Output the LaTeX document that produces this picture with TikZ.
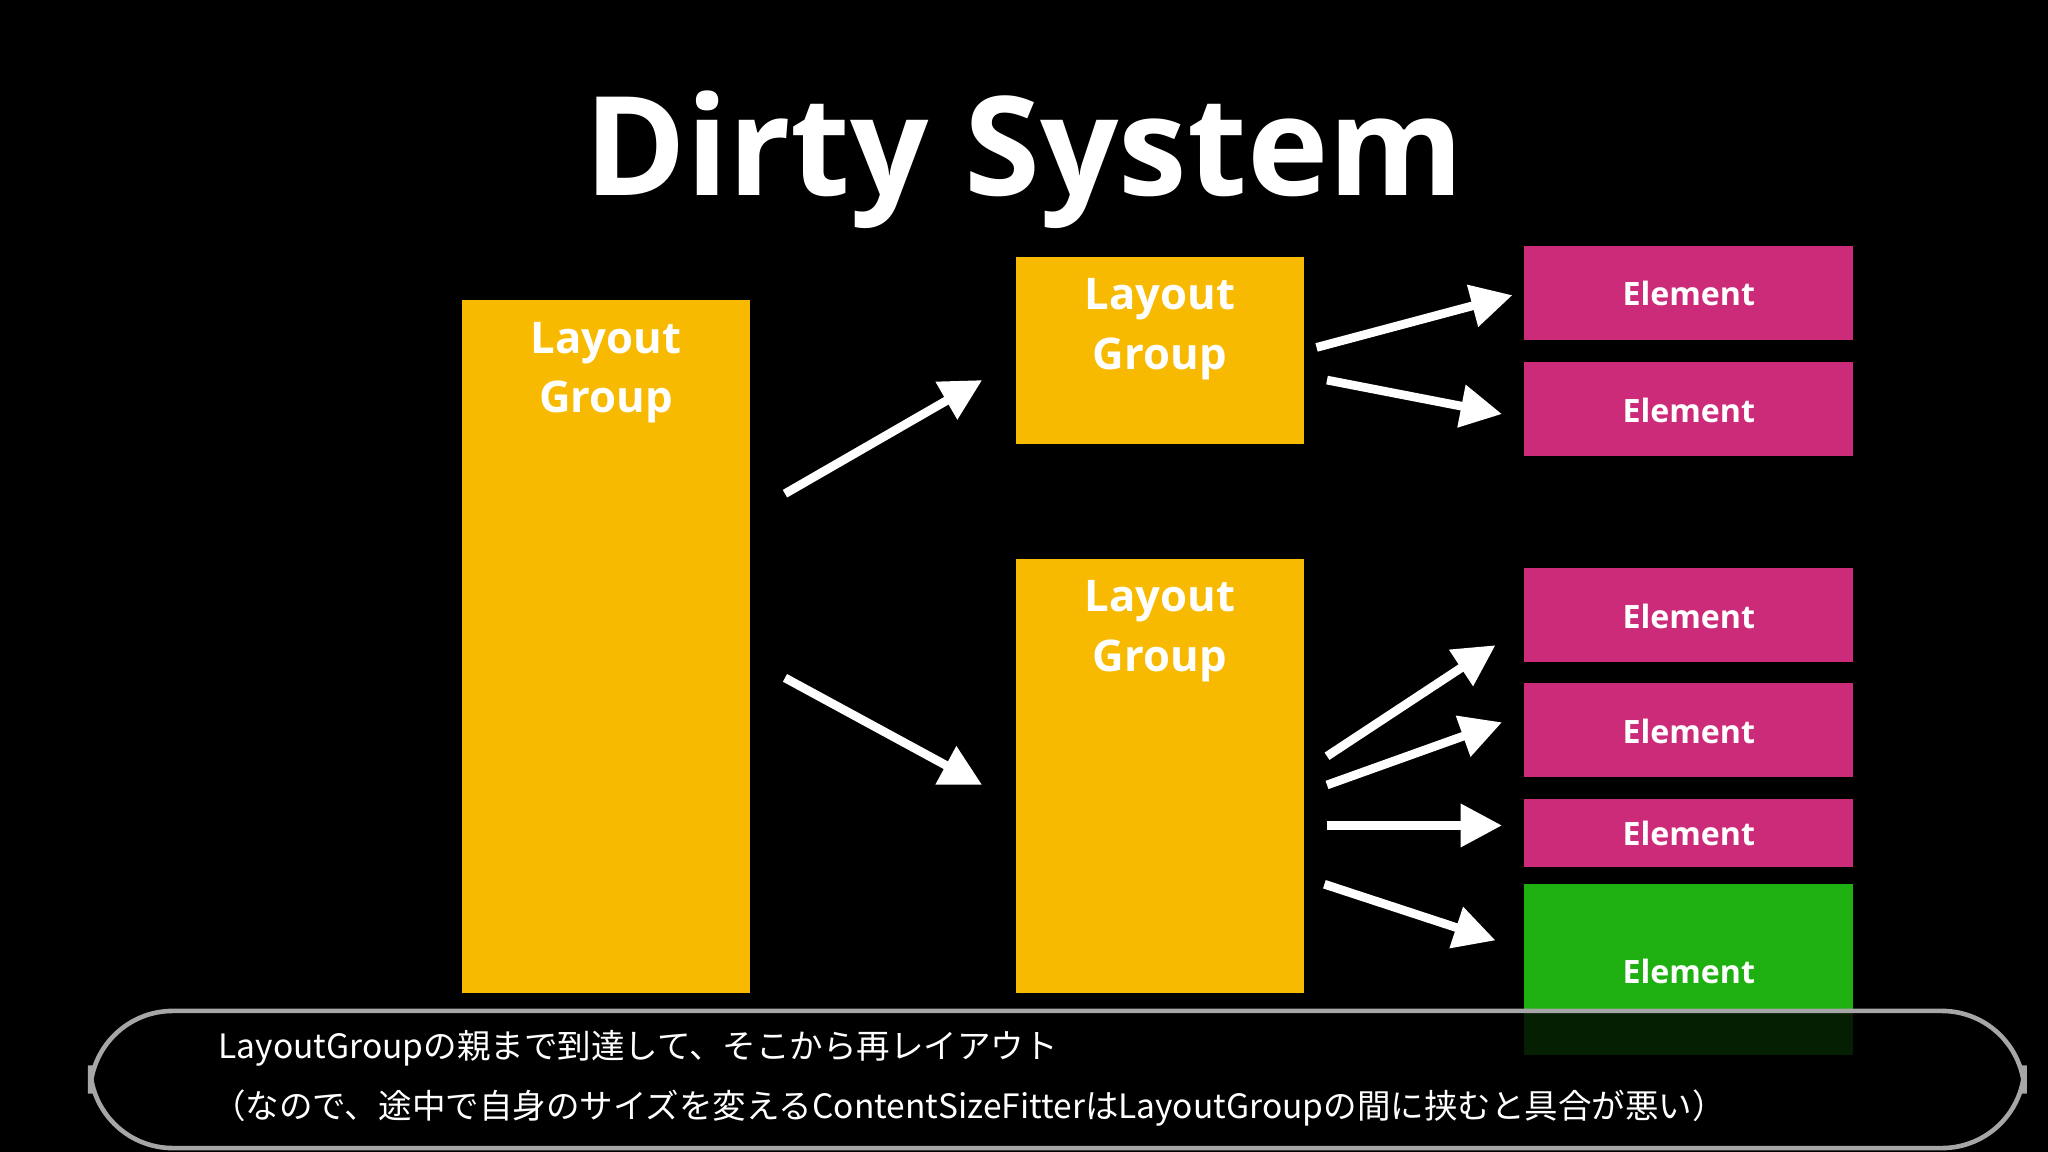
\documentclass[tikz,border=0pt]{standalone}
\usepackage{fontspec}
\setmainfont{Open Sans}
\newfontfamily\jp{Noto Sans CJK JP}
\usetikzlibrary{arrows.meta}
\definecolor{lg}{HTML}{F8BA00}
\definecolor{el}{HTML}{CC2B7A}
\definecolor{gr}{HTML}{1DB010}
\tikzset{
 lgbox/.style={fill=lg,draw=none},
 elbox/.style={fill=el,draw=none,text=white,font=\bfseries\fontsize{7}{8}\selectfont},
 lgtext/.style={text=white,font=\bfseries\fontsize{9.5}{13}\selectfont,align=center},
 arr/.style={white,line width=1.9pt,-{Triangle[length=9pt,width=9pt]}}
}
\begin{document}
\begin{tikzpicture}[x=0.01cm,y=-0.01cm]
\fill[black] (0,0) rectangle (1568,882);
\useasboundingbox (0,0) rectangle (1568,882);
\node[text=white,font=\bfseries\fontsize{30}{34}\selectfont] (title) at (784,122) {Dirty System};
% layout groups
\fill[lgbox] (354,230) rectangle (574,760);
\node[lgtext,anchor=north] (g1) at (464,234) {Layout\\Group};
\fill[lgbox] (778,197) rectangle (998,340);
\node[lgtext,anchor=north] (g2) at (888,201) {Layout\\Group};
\fill[lgbox] (778,428) rectangle (998,760);
\node[lgtext,anchor=north] (g3) at (888,432) {Layout\\Group};
% elements
\fill[el] (1167,188) rectangle (1419,260); \node[elbox,fill=none] (e1) at (1293,225) {Element};
\fill[el] (1167,277) rectangle (1419,349); \node[elbox,fill=none] (e2) at (1293,314) {Element};
\fill[el] (1167,435) rectangle (1419,507); \node[elbox,fill=none] (e3) at (1293,472) {Element};
\fill[el] (1167,523) rectangle (1419,595); \node[elbox,fill=none] (e4) at (1293,560) {Element};
\fill[el] (1167,612) rectangle (1419,664); \node[elbox,fill=none] (e5) at (1293,638) {Element};
\fill[gr] (1167,677) rectangle (1419,808); \node[elbox,fill=none] (e6) at (1293,744) {Element};
% arrows
\coordinate (a1s) at (601,378); \coordinate (a1e) at (752,291);
\coordinate (a2s) at (601,519); \coordinate (a2e) at (752,601);
\coordinate (a3s) at (1008,266); \coordinate (a3e) at (1158,226);
\coordinate (a4s) at (1016,291); \coordinate (a4e) at (1150,317);
\coordinate (a5s) at (1016,579); \coordinate (a5e) at (1145,494);
\coordinate (a6s) at (1016,601); \coordinate (a6e) at (1150,553);
\coordinate (a7s) at (1016,632); \coordinate (a7e) at (1150,632);
\coordinate (a8s) at (1014,677); \coordinate (a8e) at (1145,720);
\foreach \i in {1,...,8} \draw[arr] (a\i s) -- (a\i e);
% caption
\draw[fill=black,fill opacity=0.82,draw=gray!70,line width=1pt,rounded corners=18] (69,774) rectangle (1550,879);
\node[anchor=west,text=white,font=\jp\fontsize{7.3}{9}\selectfont] (c1) at (155,803) {LayoutGroupの親まで到達して、そこから再レイアウト};
\node[anchor=west,text=white,font=\jp\fontsize{7.3}{9}\selectfont] (c2) at (150,848) {（なので、途中で自身のサイズを変えるContentSizeFitterはLayoutGroupの間に挟むと具合が悪い）};
\end{tikzpicture}
\end{document}
